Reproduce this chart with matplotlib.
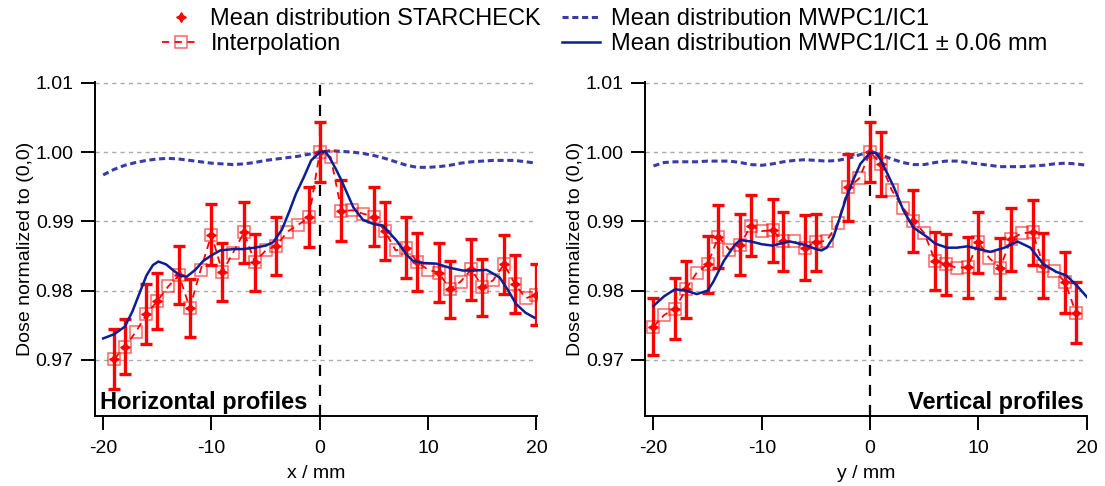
import matplotlib.pyplot as plt
import numpy as np

plt.rcParams['font.family'] = ['Liberation Sans', 'DejaVu Sans']
plt.rcParams['axes.unicode_minus'] = False

# ---- horizontal profiles (left) ----
h_star_x = [-19, -18, -16, -15, -13, -12, -10, -9, -7, -6, -4, -1, 0,
            2, 5, 6, 8, 9, 11, 12, 14, 15, 17, 18, 20]
h_star_y = [0.9701, 0.9719, 0.9766, 0.9785, 0.9822, 0.9775, 0.9881, 0.9827, 0.9884, 0.9841, 0.9865, 0.9906, 1.0000,
            0.9915, 0.9907, 0.9886, 0.9862, 0.9841, 0.9826, 0.9802, 0.9831, 0.9805, 0.9838, 0.9810, 0.9794]
h_star_err = [0.0043, 0.0040, 0.0043, 0.0041, 0.0042, 0.0042, 0.0044, 0.0042, 0.0044, 0.0041, 0.0042, 0.0043, 0.0043,
              0.0044, 0.0043, 0.0042, 0.0044, 0.0042, 0.0043, 0.0041, 0.0044, 0.0041, 0.0043, 0.0042, 0.0044]

h_int_x = list(range(-19, 21))
h_int_y = [0.9701, 0.9719, 0.9740, 0.9766, 0.9785, 0.9806, 0.9822, 0.9775, 0.9830, 0.9881,
           0.9827, 0.9855, 0.9884, 0.9841, 0.9858, 0.9865, 0.9885, 0.9895, 0.9906, 1.0000,
           0.9993, 0.9915, 0.9916, 0.9911, 0.9907, 0.9886, 0.9858, 0.9862, 0.9841, 0.9830,
           0.9826, 0.9802, 0.9813, 0.9831, 0.9805, 0.9815, 0.9838, 0.9810, 0.9789, 0.9794]

h_mwpc_x = list(range(-20, 21))
h_mwpc_y = [0.9967, 0.9975, 0.9981, 0.9985, 0.9988, 0.9990, 0.9991, 0.9990, 0.9988, 0.9986,
            0.9984, 0.9983, 0.9982, 0.9983, 0.9985, 0.9988, 0.9990, 0.9992, 0.9994, 0.9997,
            1.0000, 1.0002, 1.0001, 1.0000, 0.9998, 0.9995, 0.9991, 0.9986, 0.9981, 0.9978,
            0.9978, 0.9979, 0.9981, 0.9984, 0.9986, 0.9987, 0.9988, 0.9988, 0.9988, 0.9986, 0.9984]

h_shift_x = [-20, -19, -18, -17.3, -16.6, -16, -15.4, -14.9, -14.2, -13.5, -12.9, -12.3, -11.5, -10.75, -10, -9.2,
             -8, -7.1, -6, -5, -4.3, -3.5, -2.8, -2.2, -1.5, -0.8, 0, 0.5, 0.9, 1.5, 2.0, 3.1, 4.0, 5.0, 5.8,
             7.1, 8.0, 8.6, 9.5, 10.75, 12, 13.2, 14.2, 15.4, 16.6, 17.4, 18.1, 19, 19.8]
h_shift_y = [0.9731, 0.9737, 0.9748, 0.9770, 0.9798, 0.9822, 0.9837, 0.9842, 0.9838, 0.9829, 0.9822, 0.9820, 0.9830, 0.9843, 0.9851, 0.9858,
             0.9860, 0.9860, 0.9862, 0.9865, 0.9870, 0.9888, 0.9915, 0.9940, 0.9963, 0.9988, 1.0000, 1.0001, 0.9992, 0.9975, 0.9959, 0.9920, 0.9902, 0.9896, 0.9894,
             0.9872, 0.9852, 0.9843, 0.9840, 0.9839, 0.9833, 0.9829, 0.9829, 0.9830, 0.9819, 0.9800, 0.9781, 0.9768, 0.9761]

# ---- vertical profiles (right) ----
v_star_x = [-20, -18, -17, -15, -14, -12, -11, -9, -8, -6, -5, -2, 0,
            1, 4, 6, 7, 9, 10, 12, 13, 15, 16, 18, 19]
v_star_y = [0.9748, 0.9774, 0.9802, 0.9838, 0.9878, 0.9866, 0.9894, 0.9887, 0.9871, 0.9862, 0.9870, 0.9949, 1.0000,
            0.9983, 0.9901, 0.9843, 0.9838, 0.9834, 0.9870, 0.9833, 0.9874, 0.9884, 0.9836, 0.9812, 0.9768]
v_star_err = [0.0041, 0.0044, 0.0041, 0.0041, 0.0045, 0.0044, 0.0044, 0.0046, 0.0042, 0.0047, 0.0041, 0.0048, 0.0043,
              0.0046, 0.0045, 0.0042, 0.0044, 0.0044, 0.0044, 0.0043, 0.0045, 0.0047, 0.0047, 0.0044, 0.0044]

v_int_x = list(range(-20, 20))
v_int_y = [0.9748, 0.9765, 0.9774, 0.9802, 0.9826, 0.9838, 0.9878, 0.9859, 0.9866, 0.9894,
           0.9886, 0.9887, 0.9871, 0.9871, 0.9862, 0.9870, 0.9872, 0.9897, 0.9949, 0.9962,
           1.0000, 0.9983, 0.9945, 0.9920, 0.9901, 0.9883, 0.9843, 0.9838, 0.9833, 0.9834,
           0.9870, 0.9847, 0.9833, 0.9874, 0.9883, 0.9884, 0.9836, 0.9829, 0.9812, 0.9768]

v_mwpc_x = list(range(-20, 21))
v_mwpc_y = [0.9980, 0.9985, 0.9986, 0.9986, 0.9986, 0.9987, 0.9987, 0.9987, 0.9985, 0.9982,
            0.9981, 0.9983, 0.9986, 0.9988, 0.9989, 0.9988, 0.9987, 0.9988, 0.9991, 0.9996,
            1.0001, 0.9996, 0.9990, 0.9985, 0.9982, 0.9982, 0.9985, 0.9987, 0.9987, 0.9985,
            0.9983, 0.9981, 0.9979, 0.9979, 0.9979, 0.9980, 0.9981, 0.9983, 0.9984, 0.9983, 0.9981]

v_shift_x = [-20, -19, -18, -17, -16, -15, -14.5, -13.5, -12.5, -12, -11, -10, -9, -8, -7.4, -6, -5, -4.5, -4,
             -3.4, -2.8, -2.2, -1.5, -0.9, 0, 0.5, 0.9, 1.5, 2.2, 3.1, 4, 5.3, 6, 7.1, 8, 9, 10, 11.1, 12.4,
             13.6, 14.8, 16, 17.2, 18.1, 19.1, 20]
v_shift_y = [0.9778, 0.9792, 0.9802, 0.9800, 0.9795, 0.9800, 0.9812, 0.9843, 0.9866, 0.9873, 0.9871, 0.9867, 0.9865, 0.9869, 0.9871, 0.9866, 0.9860, 0.9858, 0.9862,
             0.9877, 0.9905, 0.9935, 0.9962, 0.9983, 0.9999, 0.9999, 0.9991, 0.9972, 0.9949, 0.9915, 0.9891, 0.9877, 0.9868, 0.9862, 0.9862, 0.9864, 0.9860, 0.9856, 0.9862,
             0.9871, 0.9862, 0.9838, 0.9827, 0.9822, 0.9807, 0.9791]

red = '#ff0000'
dash_blue = '#3a3aa8'
solid_blue = '#0a1e96'

fig = plt.figure(figsize=(11.05, 4.86), dpi=100)
ax1 = fig.add_axes([0.086, 0.144, 0.400, 0.687])
ax2 = fig.add_axes([0.584, 0.144, 0.400, 0.687])

panels = [(ax1, h_star_x, h_star_y, h_star_err, h_int_x, h_int_y, h_mwpc_x, h_mwpc_y, h_shift_x, h_shift_y, 'x / mm'),
          (ax2, v_star_x, v_star_y, v_star_err, v_int_x, v_int_y, v_mwpc_x, v_mwpc_y, v_shift_x, v_shift_y, 'y / mm')]

for ax, sx, sy, se, ix, iy, mx, my, shx, shy, xl in panels:
    ax.axvline(0, color='black', lw=1.6, dashes=(5, 4), zorder=1)
    l3, = ax.plot(mx, my, color=dash_blue, lw=2.2, dashes=(2.0, 1.2), zorder=2)
    l2, = ax.plot(ix, iy, color=red, lw=1.3, dashes=(4, 3), marker='s', ms=8.5,
                  mfc='none', mec=(1, 0, 0, 0.6), mew=1.1, zorder=3)
    ax.errorbar(sx, sy, yerr=se, fmt='none', ecolor=red, elinewidth=2.4,
                capsize=4.2, capthick=2.4, zorder=4)
    l1, = ax.plot(sx, sy, linestyle='none', marker=(4, 1, 0), ms=7, color=red, zorder=5)
    l4, = ax.plot(shx, shy, color=solid_blue, lw=1.8, zorder=6)

    ax.set_xlim(-20.75, 20.05)
    ax.set_ylim(0.9619, 1.0101)
    ax.set_xticks([-20, -10, 0, 10, 20])
    ax.set_yticks([0.97, 0.98, 0.99, 1.00, 1.01])
    ax.set_yticklabels(['0.97', '0.98', '0.99', '1.00', '1.01'])
    ax.yaxis.grid(True, color='#aaaaaa', lw=1, dashes=(3, 3))
    ax.set_axisbelow(True)
    ax.spines['top'].set_visible(False)
    ax.spines['right'].set_visible(False)
    ax.spines['left'].set_linewidth(1.4)
    ax.spines['bottom'].set_linewidth(1.4)
    ax.tick_params(direction='out', length=10, width=1.4, labelsize=14)
    ax.tick_params(axis='x', pad=7)
    ax.tick_params(axis='y', pad=5.5)
    ax.set_xlabel(xl, fontsize=14, labelpad=6)
    ax.set_ylabel('Dose normalized to (0,0)', fontsize=14, labelpad=1)

ax1.text(-20.3, 0.9622, 'Horizontal profiles', fontsize=17, fontweight='bold', ha='left', va='bottom')
ax2.text(19.7, 0.9622, 'Vertical profiles', fontsize=17, fontweight='bold', ha='right', va='bottom')

fig.legend([l1, l2, l3, l4],
           ['Mean distribution STARCHECK', 'Interpolation',
            'Mean distribution MWPC1/IC1', 'Mean distribution MWPC1/IC1 \u00b1 0.06 mm'],
           loc='upper left', bbox_to_anchor=(0.136, 1.008), ncol=2, frameon=False,
           fontsize=17, borderpad=0, labelspacing=0.15, handlelength=1.6,
           handletextpad=0.45, columnspacing=0.9)

plt.savefig('out.png', dpi=100)
